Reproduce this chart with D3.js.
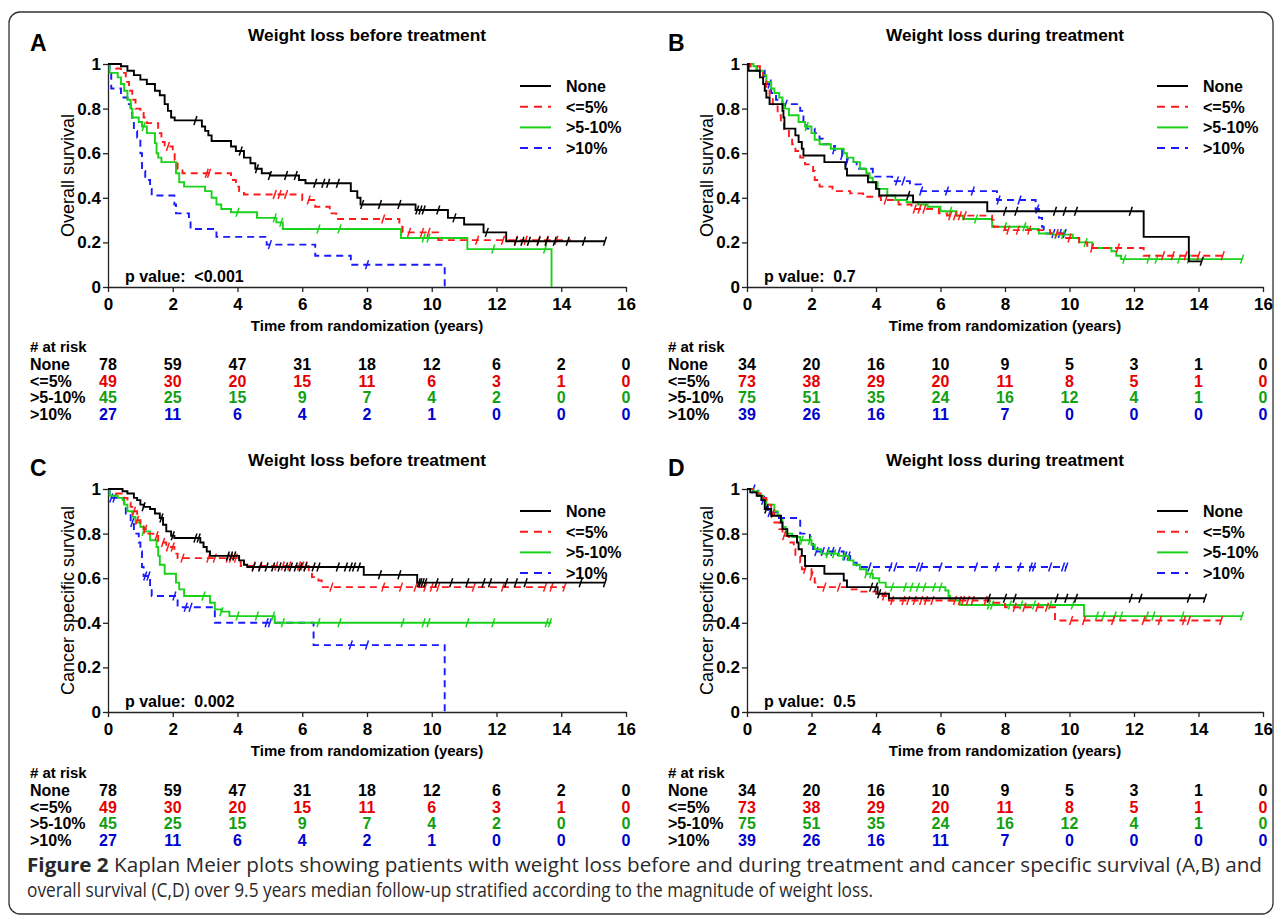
<!DOCTYPE html>
<html>
<head>
<meta charset="utf-8">
<script src="https://cdn.jsdelivr.net/npm/d3@7"></script>
<style>
body { margin: 0; background: #fff; }
svg text { font-family: "Liberation Sans", Arial, sans-serif; }
svg text.caption { font-family: "Open Sans", sans-serif; }
</style>
</head>
<body>
<svg id="fig" width="1281" height="917"></svg>
<script>
const xTicks = [0, 2, 4, 6, 8, 10, 12, 14, 16];
const yTicks = [0, 0.2, 0.4, 0.6, 0.8, 1];
const yTickLabels = ["0", "0.2", "0.4", "0.6", "0.8", "1"];
const groups = ["None", "<=5%", ">5-10%", ">10%"];
const lineColors = ["#000000", "#ff1a1a", "#19d219", "#1a1aff"];
const tableColors = ["#000000", "#e60000", "#119f11", "#0000d0"];
const dashed = [false, true, false, true];

// panel A: overall survival, weight loss before treatment
const a_none = [[0,1],[0.4,0.99],[0.6,0.97],[0.8,0.95],[1.0,0.93],[1.2,0.91],[1.45,0.88],[1.6,0.86],[1.75,0.82],[1.85,0.79],[1.95,0.76],[2.06,0.747],[2.9,0.72],[3.0,0.70],[3.1,0.68],[3.2,0.655],[3.8,0.63],[3.95,0.61],[4.2,0.58],[4.4,0.555],[4.55,0.53],[4.75,0.51],[5.0,0.50],[5.9,0.48],[6.1,0.465],[7.5,0.43],[7.7,0.40],[7.8,0.37],[9.5,0.345],[10.5,0.31],[11.0,0.28],[11.6,0.245],[12.3,0.205],[15.35,0.205]];
const a_none_cens = [2.7,4.1,4.6,5.0,5.5,5.8,6.4,6.65,6.8,7.1,7.85,8.4,9.0,9.55,9.65,9.75,10.2,10.7,11.7,12.6,12.8,13.0,13.3,13.55,13.8,14.2,14.7,15.35];
const a_le5 = [[0,1],[0.25,0.98],[0.4,0.96],[0.55,0.92],[0.65,0.88],[0.75,0.84],[0.85,0.80],[1.0,0.78],[1.1,0.76],[1.2,0.735],[1.55,0.69],[1.65,0.65],[1.75,0.63],[2.0,0.61],[2.06,0.57],[2.15,0.53],[2.3,0.51],[3.8,0.48],[3.95,0.45],[4.05,0.43],[4.2,0.415],[6.0,0.39],[6.4,0.36],[6.85,0.33],[7.05,0.305],[9.0,0.27],[9.1,0.245],[10.2,0.21],[14.3,0.21]];
const a_le5_cens = [1.85,3.05,3.12,5.15,5.3,5.5,6.2,8.5,9.3,9.7,9.9,11.4,12.2,12.6,12.9,13.3,13.55,13.85];
const a_5to10 = [[0,1],[0.05,0.96],[0.3,0.94],[0.4,0.91],[0.5,0.88],[0.6,0.84],[0.7,0.80],[0.75,0.76],[0.95,0.74],[1.05,0.72],[1.2,0.69],[1.45,0.645],[1.5,0.60],[1.55,0.58],[1.65,0.56],[2.1,0.51],[2.2,0.47],[2.35,0.45],[3.0,0.43],[3.2,0.40],[3.35,0.37],[3.5,0.35],[3.8,0.335],[4.6,0.31],[5.2,0.29],[5.4,0.26],[9.05,0.22],[11.1,0.17],[13.7,0]];
const a_5to10_cens = [1.1,4.0,5.15,5.35,6.5,7.15,9.75,9.9,11.9,13.5];
const a_gt10 = [[0,1],[0.05,0.96],[0.1,0.89],[0.4,0.85],[0.6,0.82],[0.7,0.78],[0.75,0.74],[0.8,0.70],[0.9,0.67],[1.0,0.60],[1.05,0.52],[1.15,0.48],[1.3,0.44],[1.35,0.41],[2.05,0.37],[2.1,0.33],[2.5,0.30],[2.55,0.26],[3.35,0.225],[4.9,0.19],[6.4,0.14],[7.5,0.10],[10.4,0]];
const a_gt10_cens = [5.0,8.0];

// panel B: overall survival, weight loss during treatment
const b_none = [[0,1],[0.05,0.97],[0.4,0.94],[0.5,0.91],[0.55,0.88],[0.6,0.85],[0.7,0.82],[1.1,0.79],[1.13,0.76],[1.16,0.71],[1.5,0.68],[1.6,0.65],[1.7,0.62],[1.75,0.59],[2.4,0.56],[3.05,0.53],[3.1,0.50],[3.75,0.47],[4.0,0.44],[4.1,0.41],[5.15,0.38],[7.45,0.34],[12.3,0.225],[13.7,0.115],[14.1,0.115]];
const b_none_cens = [5.0,8.0,8.35,9.55,9.85,10.2,11.9,14.1];
const b_le5 = [[0,1],[0.1,0.99],[0.4,0.96],[0.5,0.93],[0.6,0.89],[0.7,0.85],[0.8,0.81],[0.95,0.77],[1.05,0.74],[1.15,0.70],[1.3,0.67],[1.4,0.64],[1.5,0.61],[1.65,0.58],[1.8,0.55],[2.05,0.52],[2.1,0.48],[2.25,0.45],[2.65,0.43],[3.2,0.42],[3.6,0.405],[4.15,0.39],[4.7,0.37],[5.1,0.35],[5.95,0.33],[6.2,0.32],[7.6,0.30],[7.65,0.27],[8.0,0.255],[9.4,0.24],[9.8,0.22],[10.3,0.20],[10.55,0.175],[12.3,0.14],[14.75,0.14]];
const b_le5_cens = [4.3,5.2,5.35,5.5,6.3,6.45,6.6,6.75,8.1,8.4,8.75,9.6,10.0,10.7,11.5,12.9,13.2,13.6,14.0,14.75];
const b_5to10 = [[0,1],[0.2,0.99],[0.3,0.97],[0.5,0.95],[0.6,0.92],[0.75,0.89],[0.85,0.87],[1.0,0.85],[1.1,0.82],[1.15,0.80],[1.3,0.77],[1.6,0.74],[1.8,0.72],[2.0,0.69],[2.1,0.66],[2.25,0.64],[2.6,0.62],[3.0,0.60],[3.1,0.58],[3.3,0.56],[3.5,0.53],[3.7,0.51],[3.8,0.49],[3.9,0.47],[4.05,0.44],[4.35,0.41],[4.6,0.39],[4.95,0.38],[5.3,0.37],[5.6,0.36],[6.0,0.34],[6.5,0.32],[6.7,0.305],[7.6,0.27],[8.7,0.26],[9.05,0.24],[9.5,0.235],[10.1,0.22],[10.3,0.20],[10.7,0.175],[11.3,0.16],[11.45,0.14],[11.6,0.125],[15.35,0.125]];
const b_5to10_cens = [1.85,6.3,7.1,8.0,8.6,9.6,9.8,10.5,11.7,12.45,12.7,13.4,13.7,15.35];
const b_gt10 = [[0,1],[0.3,0.97],[0.55,0.94],[0.6,0.91],[0.75,0.87],[0.9,0.84],[1.1,0.82],[1.65,0.79],[1.75,0.74],[1.85,0.71],[2.1,0.69],[2.25,0.665],[2.35,0.64],[2.7,0.615],[2.95,0.59],[3.1,0.56],[3.4,0.53],[3.9,0.495],[4.5,0.475],[5.05,0.46],[5.4,0.43],[7.75,0.39],[8.95,0.35],[9.05,0.31],[9.15,0.27],[9.2,0.24],[9.9,0.24]];
const b_gt10_cens = [0.7,1.2,2.7,2.95,3.1,4.65,4.85,5.4,6.2,7.0,7.8,8.45,9.0,9.5,9.7,9.85];

// panel C: cancer specific survival, weight loss before treatment
const c_none = [[0,1],[0.45,0.99],[0.6,0.98],[0.8,0.96],[0.9,0.95],[1.0,0.93],[1.1,0.92],[1.3,0.91],[1.45,0.89],[1.6,0.87],[1.7,0.84],[1.8,0.81],[1.95,0.79],[2.05,0.78],[2.85,0.76],[2.95,0.74],[3.05,0.72],[3.15,0.70],[4.05,0.68],[4.2,0.66],[4.3,0.65],[7.9,0.615],[9.55,0.58],[15.35,0.58]];
const c_none_cens = [1.1,1.65,2.0,2.7,2.8,3.7,3.8,3.9,4.5,4.7,4.9,5.1,5.3,5.5,5.65,5.8,5.95,6.1,6.35,6.5,7.1,7.35,7.5,7.6,7.75,8.4,9.0,9.6,9.65,9.72,9.8,10.15,10.6,11.1,11.6,11.8,12.3,12.6,12.9,14.6,15.35];
const c_le5 = [[0,1],[0.2,0.98],[0.5,0.96],[0.6,0.94],[0.7,0.92],[0.8,0.90],[0.9,0.86],[1.0,0.84],[1.1,0.82],[1.25,0.80],[1.4,0.79],[1.55,0.76],[1.8,0.74],[2.05,0.71],[2.15,0.69],[4.0,0.675],[4.1,0.655],[6.2,0.63],[6.3,0.605],[6.5,0.59],[6.6,0.56],[14.1,0.56]];
const c_le5_cens = [0.8,0.9,1.15,1.5,1.7,1.85,2.0,2.3,3.1,3.3,3.7,3.8,3.95,4.5,4.7,5.2,5.4,5.6,5.9,6.0,6.1,6.9,8.5,9.05,9.5,9.8,10.0,10.2,11.3,12.2,13.5,13.7,14.1];
const c_5to10 = [[0,1],[0.05,0.97],[0.3,0.96],[0.45,0.95],[0.5,0.93],[0.6,0.90],[0.75,0.875],[0.85,0.85],[1.0,0.83],[1.1,0.81],[1.3,0.77],[1.5,0.74],[1.55,0.70],[1.6,0.66],[1.75,0.62],[2.1,0.58],[2.2,0.55],[2.35,0.52],[3.15,0.49],[3.3,0.46],[3.5,0.45],[3.75,0.43],[5.15,0.40],[13.7,0.40]];
const c_5to10_cens = [1.1,2.95,3.5,4.0,4.6,5.1,5.4,6.5,7.15,9.1,9.75,9.9,11.1,11.9,13.55,13.65];
const c_gt10 = [[0,1],[0.05,0.96],[0.5,0.93],[0.55,0.89],[0.7,0.85],[0.8,0.80],[0.95,0.76],[1.0,0.72],[1.05,0.65],[1.1,0.61],[1.3,0.56],[1.35,0.52],[2.15,0.47],[3.3,0.40],[6.35,0.30],[10.4,0]];
const c_gt10_cens = [0.1,0.2,0.75,1.15,1.25,2.05,2.4,2.55,4.9,5.0,7.5,8.0];

// panel D: cancer specific survival, weight loss during treatment
const d_none = [[0,1],[0.1,0.985],[0.3,0.97],[0.45,0.95],[0.55,0.91],[0.75,0.88],[1.05,0.85],[1.1,0.82],[1.25,0.79],[1.55,0.76],[1.6,0.73],[1.7,0.70],[1.8,0.655],[2.4,0.62],[3.0,0.59],[3.1,0.56],[4.05,0.53],[4.4,0.51],[14.2,0.51]];
const d_none_cens = [0.6,3.85,4.0,4.1,7.5,8.0,8.3,9.6,9.9,10.2,11.9,12.2,13.7,14.2];
const d_le5 = [[0,1],[0.3,0.98],[0.5,0.96],[0.6,0.93],[0.75,0.89],[0.85,0.85],[1.0,0.82],[1.1,0.79],[1.3,0.76],[1.45,0.73],[1.5,0.70],[1.65,0.67],[1.7,0.64],[2.0,0.61],[2.1,0.58],[2.2,0.56],[3.2,0.55],[3.5,0.54],[4.0,0.53],[4.2,0.52],[4.4,0.50],[7.65,0.49],[8.0,0.47],[9.55,0.41],[14.7,0.41]];
const d_le5_cens = [0.8,1.15,1.8,2.0,2.4,2.85,4.25,4.5,4.85,5.0,5.2,5.4,5.55,5.75,6.45,6.6,6.7,6.85,7.0,7.4,8.3,8.6,9.0,9.3,10.05,10.45,11.35,12.3,12.8,13.55,13.7,14.7];
const d_5to10 = [[0,1],[0.2,0.99],[0.35,0.97],[0.5,0.95],[0.6,0.93],[0.85,0.90],[0.95,0.88],[1.05,0.86],[1.1,0.83],[1.2,0.80],[1.4,0.785],[1.65,0.77],[2.0,0.75],[2.1,0.73],[2.3,0.71],[2.85,0.70],[3.15,0.68],[3.3,0.66],[3.5,0.64],[3.7,0.62],[3.9,0.60],[4.1,0.58],[4.3,0.56],[6.15,0.545],[6.25,0.52],[6.3,0.50],[6.6,0.48],[10.45,0.43],[15.35,0.43]];
const d_5to10_cens = [1.7,1.95,2.5,2.7,3.0,3.7,3.85,4.5,4.9,5.1,5.3,5.5,5.8,6.0,7.5,7.6,8.15,8.5,8.9,9.4,10.1,10.85,11.05,11.4,11.6,12.4,12.6,13.5,15.35];
const d_gt10 = [[0,1],[0.35,0.97],[0.45,0.95],[0.6,0.92],[0.65,0.895],[0.95,0.87],[1.65,0.80],[1.95,0.76],[2.05,0.72],[3.0,0.70],[3.2,0.67],[3.4,0.65],[9.9,0.65]];
const d_gt10_cens = [0.2,0.5,0.7,2.15,2.35,2.5,2.65,2.85,3.05,3.15,3.8,4.45,4.6,5.3,5.4,6.0,7.1,7.75,8.45,8.8,8.9,9.4,9.8,9.9];

// numbers at risk
const riskBefore_none = [78,59,47,31,18,12,6,2,0];
const riskBefore_le5 = [49,30,20,15,11,6,3,1,0];
const riskBefore_5to10 = [45,25,15,9,7,4,2,0,0];
const riskBefore_gt10 = [27,11,6,4,2,1,0,0,0];
const riskDuring_none = [34,20,16,10,9,5,3,1,0];
const riskDuring_le5 = [73,38,29,20,11,8,5,1,0];
const riskDuring_5to10 = [75,51,35,24,16,12,4,1,0];
const riskDuring_gt10 = [39,26,16,11,7,0,0,0,0];

const panels = [
  {letter: "A", title: "Weight loss before treatment", ylab: "Overall survival", p: "<0.001",
   curves: [a_none, a_le5, a_5to10, a_gt10], cens: [a_none_cens, a_le5_cens, a_5to10_cens, a_gt10_cens],
   risk: [riskBefore_none, riskBefore_le5, riskBefore_5to10, riskBefore_gt10], left: 108, right: 626, top: 64, dy: 0, lx: 30},
  {letter: "B", title: "Weight loss during treatment", ylab: "Overall survival", p: "0.7",
   curves: [b_none, b_le5, b_5to10, b_gt10], cens: [b_none_cens, b_le5_cens, b_5to10_cens, b_gt10_cens],
   risk: [riskDuring_none, riskDuring_le5, riskDuring_5to10, riskDuring_gt10], left: 747, right: 1263, top: 64, dy: 0, lx: 668},
  {letter: "C", title: "Weight loss before treatment", ylab: "Cancer specific survival", p: "0.002",
   curves: [c_none, c_le5, c_5to10, c_gt10], cens: [c_none_cens, c_le5_cens, c_5to10_cens, c_gt10_cens],
   risk: [riskBefore_none, riskBefore_le5, riskBefore_5to10, riskBefore_gt10], left: 108, right: 626, top: 489, dy: 426, lx: 30},
  {letter: "D", title: "Weight loss during treatment", ylab: "Cancer specific survival", p: "0.5",
   curves: [d_none, d_le5, d_5to10, d_gt10], cens: [d_none_cens, d_le5_cens, d_5to10_cens, d_gt10_cens],
   risk: [riskDuring_none, riskDuring_le5, riskDuring_5to10, riskDuring_gt10], left: 747, right: 1263, top: 489, dy: 426, lx: 668}
];

const svg = d3.select("#fig");

svg.append("rect")
  .attr("x", 9).attr("y", 12).attr("width", 1264).attr("height", 902)
  .attr("rx", 11)
  .attr("fill", "none").attr("stroke", "#333").attr("stroke-width", 1.3);

function valueAt(steps, t) {
  let v = steps[0][1];
  for (let i = 0; i < steps.length; i++) {
    if (steps[i][0] <= t) v = steps[i][1];
  }
  return v;
}

panels.forEach(function(p) {

  const x = d3.scaleLinear().domain([0, 16]).range([p.left, p.right]);
  const y = d3.scaleLinear().domain([0, 1]).range([p.top + 223, p.top]);
  const g = svg.append("g");

  g.append("text")
    .attr("x", p.lx).attr("y", p.top - 13)
    .attr("font-size", 23).attr("font-weight", "bold")
    .text(p.letter);

  g.append("text")
    .attr("x", (p.left + p.right) / 2).attr("y", p.top - 23)
    .attr("text-anchor", "middle")
    .attr("font-size", 17).attr("font-weight", "bold")
    .attr("textLength", 238).attr("lengthAdjust", "spacingAndGlyphs")
    .text(p.title);

  // axes
  const ax = g.append("g")
    .attr("transform", "translate(0," + y(0) + ")")
    .call(d3.axisBottom(x).tickValues(xTicks).tickSize(5).tickSizeOuter(0));
  const ay = g.append("g")
    .attr("transform", "translate(" + x(0) + ",0)")
    .call(d3.axisLeft(y).tickValues(yTicks).tickFormat((d, i) => yTickLabels[i]).tickSize(5).tickSizeOuter(0).tickPadding(2));
  [ax, ay].forEach(function(a) {
    a.select(".domain").attr("stroke", "#222").attr("stroke-width", 1.3);
    a.selectAll(".tick line").attr("stroke", "#222").attr("stroke-width", 1.3);
    a.selectAll(".tick text")
      .attr("font-size", 17).attr("font-weight", "bold").attr("fill", "#000");
  });
  ax.selectAll(".tick text").attr("dy", "0.9em");

  g.append("text")
    .attr("transform", "translate(" + (p.left - 34) + "," + ((y(0) + y(1)) / 2) + ") rotate(-90)")
    .attr("text-anchor", "middle")
    .attr("font-size", 18)
    .text(p.ylab);

  g.append("text")
    .attr("x", (p.left + p.right) / 2).attr("y", y(0) + 44)
    .attr("text-anchor", "middle")
    .attr("font-size", 15).attr("font-weight", "bold")
    .text("Time from randomization (years)");

  g.append("text")
    .attr("x", x(0) + 17).attr("y", y(0) - 5)
    .attr("font-size", 16).attr("font-weight", "bold")
    .style("white-space", "pre")
    .text("p value:  " + p.p);

  const line = d3.line()
    .x(d => x(d[0]))
    .y(d => y(d[1]))
    .curve(d3.curveStepAfter);

  // draw in order so that black ends up on top like the original
  [3, 2, 1, 0].forEach(function(k) {
    g.append("path")
      .datum(p.curves[k])
      .attr("d", line)
      .attr("fill", "none")
      .attr("stroke", lineColors[k])
      .attr("stroke-width", 1.9)
      .attr("stroke-dasharray", dashed[k] ? "7,5" : null);

    g.selectAll(null)
      .data(p.cens[k])
      .enter()
      .append("line")
      .attr("x1", d => x(d) - 1.5)
      .attr("x2", d => x(d) + 1.5)
      .attr("y1", d => y(valueAt(p.curves[k], d)) + 4.5)
      .attr("y2", d => y(valueAt(p.curves[k], d)) - 4.5)
      .attr("stroke", lineColors[k])
      .attr("stroke-width", 1.5);
  });

  // legend
  const leg = g.append("g");
  groups.forEach(function(name, k) {
    const ly = p.top + 22 + k * 20.7;
    leg.append("line")
      .attr("x1", p.right - 106).attr("x2", p.right - 75)
      .attr("y1", ly).attr("y2", ly)
      .attr("stroke", lineColors[k]).attr("stroke-width", 2)
      .attr("stroke-dasharray", dashed[k] ? "8,6" : null);
    leg.append("text")
      .attr("x", p.right - 60).attr("y", ly + 6)
      .attr("font-size", 16).attr("font-weight", "bold")
      .text(name);
  });

  // numbers at risk
  const tab = g.append("g");
  tab.append("text")
    .attr("x", p.lx).attr("y", 352 + p.dy)
    .attr("font-size", 15).attr("font-weight", "bold")
    .text("# at risk");
  groups.forEach(function(name, k) {
    const ry = 370 + p.dy + k * 16.5;
    tab.append("text")
      .attr("x", p.lx).attr("y", ry)
      .attr("font-size", 16).attr("font-weight", "bold")
      .text(name);
    tab.selectAll(null)
      .data(p.risk[k])
      .enter()
      .append("text")
      .attr("x", (d, i) => x(xTicks[i]))
      .attr("y", ry)
      .attr("text-anchor", "middle")
      .attr("font-size", 16).attr("font-weight", "bold")
      .attr("fill", tableColors[k])
      .text(d => d);
  });
});

// caption
const cap1 = svg.append("text")
  .attr("class", "caption")
  .attr("x", 27).attr("y", 872)
  .attr("font-size", 19.5).attr("fill", "#2a2a2a")
  .attr("textLength", 1235).attr("lengthAdjust", "spacingAndGlyphs");
cap1.append("tspan").attr("font-weight", "bold").text("Figure 2");
cap1.append("tspan").text(" Kaplan Meier plots showing patients with weight loss before and during treatment and cancer specific survival (A,B) and");

svg.append("text")
  .attr("class", "caption")
  .attr("x", 27).attr("y", 897)
  .attr("font-size", 19.5).attr("fill", "#2a2a2a")
  .attr("textLength", 846).attr("lengthAdjust", "spacingAndGlyphs")
  .text("overall survival (C,D) over 9.5 years median follow-up stratified according to the magnitude of weight loss.");
</script>
</body>
</html>
